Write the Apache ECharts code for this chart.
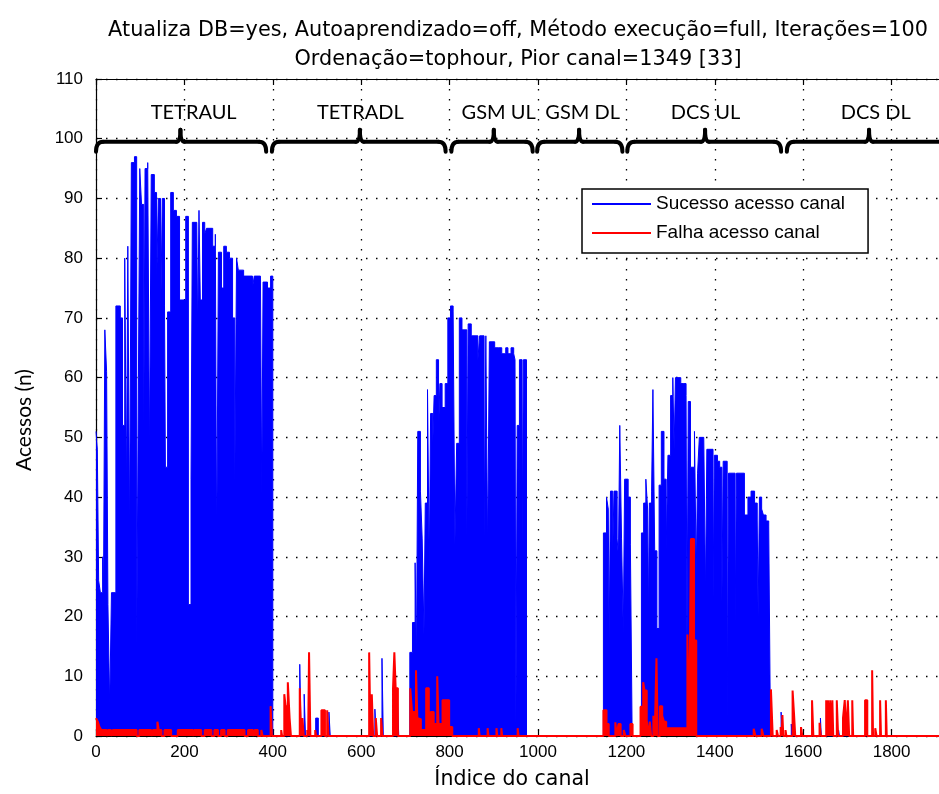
<!DOCTYPE html>
<html>
<head>
<meta charset="utf-8">
<script src="https://cdn.jsdelivr.net/npm/echarts@6/dist/echarts.min.js"></script>
<style>
  html, body { margin: 0; padding: 0; background: #fff; }
  #chart { width: 939px; height: 794px; }
</style>
</head>
<body>
<div id="chart"></div>
<script>
// [canal inicial, valor] -- each value holds until the next channel
var sucessoAcesso = [
  [0,51],[3,48],[6,26],[10,24],[15,30],[17,24],[20,68],[24,61],[27,22],[31,5],[35,24],[45,72],[55,70],[60,52],
  [65,80],[69,41],[72,82],[76,33],[80,96],[87,97],[92,13],[96,60],[99,95],[103,89],[108,51],[111,95],[117,96],
  [121,47],[125,94],[132,91],[137,75],[141,90],[146,69],[150,90],[155,72],[157,45],[162,71],[169,91],[175,88],
  [182,87],[189,73],[203,87],[209,22],[215,43],[218,86],[228,86],[230,67],[233,88],[236,73],[241,86],[246,84],
  [250,85],[264,82],[270,84],[273,30],[277,81],[284,75],[289,82],[295,81],[302,80],[309,70],[314,42],[318,80],
  [322,78],[334,77],[354,75],[358,77],[372,77],[375,40],[378,76],[388,75],[395,77],[400,0],
  [461,12],[464,0],[471,7],[474,0],[497,3],[503,0],[527,4],[530,0],[631,4.5],[634,0],[647,13],[650,0],[681,8],[685,0],
  [710,14],[716,19],[722,29],[725,12],[728,51],[734,41],[738,33],[742,17],[745,39],[750,58],[754,28],[757,54],
  [762,49],[765,57],[770,63],[775,51],[778,59],[783,55],[790,59],[796,70],[802,72],[808,71],[812,32],[816,49],
  [822,70],[828,68],[839,33],[842,69],[849,67],[864,63],[868,67],[878,33],[882,67],[886,31],[890,66],[902,65],
  [910,65],[918,64],[927,65],[932,64],[939,65],[945,64],[948,63],[950,2],[953,52],[958,63],[964,32],[967,63],[974,0],
  [1148,34],[1155,40],[1159,38],[1161,16],[1164,41],[1169,31],[1172,41],[1179,33],[1182,30],[1185,52],[1189,33],
  [1193,17],[1196,43],[1204,40],[1209,32],[1213,0],
  [1234,34],[1239,39],[1244,43],[1248,38],[1250,20],[1252,39],[1257,41],[1260,58],[1264,31],[1269,18],[1274,42],
  [1279,51],[1285,43],[1290,31],[1294,47],[1300,57],[1305,60],[1308,48],[1311,60],[1323,59],[1330,59],[1335,57],
  [1337,14],[1340,56],[1345,45],[1354,51],[1358,27],[1361,44],[1365,50],[1375,50],[1379,24],[1382,48],[1396,23],
  [1399,47],[1406,46],[1411,45],[1416,22],[1419,46],[1428,2],[1431,44],[1446,19],[1449,44],[1467,37],[1475,40],
  [1482,41],[1490,39],[1496,36],[1498,20],[1501,40],[1506,38],[1510,37],[1516,36],[1522,35],[1526,0],
  [1550,4],[1553,0],[1573,2],[1575,0],[1639,3],[1641,0],[1680,1],[1682,0],[2000,0]
];

var falhaAcesso = [
  [0,3],[4,2.4],[8,1.5],[12,1],[24,0],[27,1],[34,0],[38,1],[92,0],[98,1],[125,0],[129,1],[139,2.4],[142,1],
  [148,0],[155,1],[170,0],[185,1],[219,0],[222,1],[238,0],[246,1],[261,0],[268,1],[276,0],[283,1],[291,0],
  [298,1],[336,0],[344,1],[355,0],[359,1],[366,0],[374,1],[377,0],[395,5],[398,0],
  [419,1],[421,0],[426,7],[429,5],[434,9],[438,3],[441,0],[461,8],[464,0],[467,3],[470,0],[478,1],[480,0],
  [482,14],[485,0],[496,1],[498,0],[510,4.3],[518,0],[523,4.3],[526,0],[618,14],[621,0],[624,7],[627,0],
  [633,3],[636,0],[645,3],[648,0],[672,8],[675,14],[678,8],[683,0],
  [711,8],[715,4],[724,11],[727,3],[731,2.8],[735,1],[747,8],[753,2],[757,4],[764,2],[772,10],[775,2],[784,6],
  [799,1.5],[806,0],[866,1.3],[868,0],[886,1.3],[888,0],[906,1.3],[908,0],[917,1.3],[919,0],[954,1.3],[956,0],
  [1148,4.3],[1155,2],[1160,0],[1175,2.3],[1178,0],[1182,2],[1187,0],[1194,1],[1198,0],[1209,2],[1214,0],
  [1232,4.9],[1238,9],[1241,7.6],[1246,2.6],[1250,0],[1253,2.4],[1256,0],[1261,3.4],[1264,0],[1268,13],[1271,0],
  [1276,5],[1281,3.4],[1285,2.4],[1290,1.3],[1338,17],[1342,0],[1346,33],[1353,16],[1358,0],[1488,1.2],[1492,0],
  [1506,1.2],[1510,0],[1527,7.8],[1531,0],[1540,1],[1543,0],[1549,1.5],[1551,0],[1553,3.5],[1555,0],[1560,1],
  [1562,0],[1576,7.6],[1579,4],[1582,0],[1595,1.5],[1598,0],[1620,6],[1623,0],[1637,2.2],[1640,0],[1652,6],
  [1654,0],[1656,6],[1658,0],[1661,6],[1663,0],[1666,6],[1668,0],[1676,6],[1679,0],[1690,3],[1694,6],[1698,0],
  [1701,6],[1704,0],[1711,6],[1713,0],[1740,6],[1745,0],[1756,11],[1758,0],[1763,1.3],[1766,0],[1774,6],
  [1776,0],[1787,6],[1789,0],[2000,0]
];

// faixas (chaves no topo)
var bandLabels = ['TETRAUL', 'TETRADL', 'GSM UL', 'GSM DL', 'DCS UL', 'DCS DL'];
var braceStart = [0, 398, 804, 998, 1202, 1563];
var braceEnd = [385, 791, 988, 1191, 1550, 1960];
var bracePeak = [191, 597, 900, 1093, 1378, 1749];
var labelPos = [221, 598, 911, 1101, 1379, 1764];

var braceY = 99.5;
var labelY = 104.3;

var chart = echarts.init(document.getElementById('chart'));

var braceData = [];
for (var i = 0; i < bandLabels.length; i++) {
  braceData.push([braceStart[i], braceEnd[i], bracePeak[i], labelPos[i]]);
}

function renderBrace(params, api) {
  var s = api.coord([api.value(0), braceY]);
  var e = api.coord([api.value(1), braceY]);
  var p = api.coord([api.value(2), braceY]);
  var t = api.coord([api.value(3), labelY]);
  var y = s[1];
  var st = {stroke: '#000', lineWidth: 4, fill: null, lineCap: 'round'};
  return {
    type: 'group',
    children: [
      {type: 'bezierCurve', shape: {x1: s[0], y1: y + 10, cpx1: s[0], cpy1: y, x2: s[0] + 7, y2: y}, style: st},
      {type: 'line', shape: {x1: s[0] + 7, y1: y, x2: p[0] - 4, y2: y}, style: st},
      {type: 'bezierCurve', shape: {x1: p[0] - 4, y1: y, cpx1: p[0], cpy1: y, x2: p[0], y2: y - 12}, style: st},
      {type: 'bezierCurve', shape: {x1: p[0], y1: y - 12, cpx1: p[0], cpy1: y, x2: p[0] + 4, y2: y}, style: st},
      {type: 'line', shape: {x1: p[0] + 4, y1: y, x2: e[0] - 7, y2: y}, style: st},
      {type: 'bezierCurve', shape: {x1: e[0] - 7, y1: y, cpx1: e[0], cpy1: y, x2: e[0], y2: y + 10}, style: st},
      {type: 'text', x: t[0], y: t[1], style: {
        text: bandLabels[params.dataIndex], fill: '#000', font: '20px Lato',
        align: 'center', verticalAlign: 'middle'
      }}
    ]
  };
}

var dotted = {show: true, lineStyle: {color: '#000', width: 1.3, type: [1.5, 8.5]}};
var plainNum = function (v) { return String(v); };

var option = {
  animation: false,
  backgroundColor: '#fff',
  // the axes run past the right edge of the picture (up to 2000)
  grid: {left: 96, width: 884, top: 79, bottom: 58, show: false, outerBoundsMode: 'none', containLabel: false},
  graphic: [
    {type: 'text', x: 518, y: 16, style: {
      text: 'Atualiza DB=yes, Autoaprendizado=off, Método execução=full, Iterações=100\nOrdenação=tophour, Pior canal=1349 [33]',
      font: '20.8px "DejaVu Sans"', fill: '#000', align: 'center', lineHeight: 29
    }},
    {type: 'text', x: 512, y: 780, style: {
      text: 'Índice do canal', font: '20.5px "DejaVu Sans"', fill: '#000', align: 'center', verticalAlign: 'middle'
    }},
    {type: 'text', x: 24, y: 420, rotation: Math.PI / 2, style: {
      text: 'Acessos (n)', font: '21px Lato', fill: '#000', align: 'center', verticalAlign: 'middle'
    }}
  ],
  legend: {
    orient: 'vertical', left: 582, top: 189,
    data: ['Sucesso acesso canal', 'Falha acesso canal'],
    icon: 'rect', itemWidth: 59, itemHeight: 2, itemGap: 9,
    padding: [5, 23, 10, 10],
    borderColor: '#000', borderWidth: 1.5, backgroundColor: '#fff',
    textStyle: {fontFamily: 'Liberation Sans', fontSize: 19, color: '#000', lineHeight: 20}
  },
  xAxis: [
    {
      type: 'value', min: 0, max: 2000, interval: 200, position: 'bottom',
      axisLine: {show: true, lineStyle: {color: '#000', width: 1.2}},
      axisTick: {show: true, inside: true, length: 6, lineStyle: {color: '#000', width: 1.2}},
      axisLabel: {color: '#000', fontSize: 17, fontFamily: 'Liberation Sans', margin: 8, formatter: plainNum},
      splitLine: dotted
    },
    {
      type: 'value', min: 0, max: 2000, interval: 200, position: 'top',
      axisLine: {show: true, lineStyle: {color: '#000', width: 1.2}},
      axisTick: {show: true, inside: true, length: 6, lineStyle: {color: '#000', width: 1.2}},
      axisLabel: {show: false}, splitLine: {show: false}
    }
  ],
  yAxis: {
    type: 'value', min: 0, max: 110, interval: 10,
    axisLine: {show: true, lineStyle: {color: '#000', width: 1.2}},
    axisTick: {show: true, inside: true, length: 6, lineStyle: {color: '#000', width: 1.2}},
    axisLabel: {color: '#000', fontSize: 17, fontFamily: 'Liberation Sans', margin: 13, formatter: plainNum},
    splitLine: dotted
  },
  series: [
    {
      name: 'Sucesso acesso canal', type: 'line', step: 'end', data: sucessoAcesso,
      symbol: 'none', showSymbol: false,
      lineStyle: {color: '#0000ff', width: 1},
      itemStyle: {color: '#0000ff'},
      areaStyle: {color: '#0000ff', opacity: 1},
      z: 3
    },
    {
      name: 'Falha acesso canal', type: 'line', step: 'end', data: falhaAcesso,
      symbol: 'none', showSymbol: false,
      lineStyle: {color: '#ff0000', width: 2},
      itemStyle: {color: '#ff0000'},
      areaStyle: {color: '#ff0000', opacity: 1},
      z: 4
    },
    {
      type: 'custom', renderItem: renderBrace, data: braceData, silent: true,
      encode: {x: [0, 1, 2, 3]}, clip: false, z: 10
    }
  ]
};

chart.setOption(option);
</script>
</body>
</html>
